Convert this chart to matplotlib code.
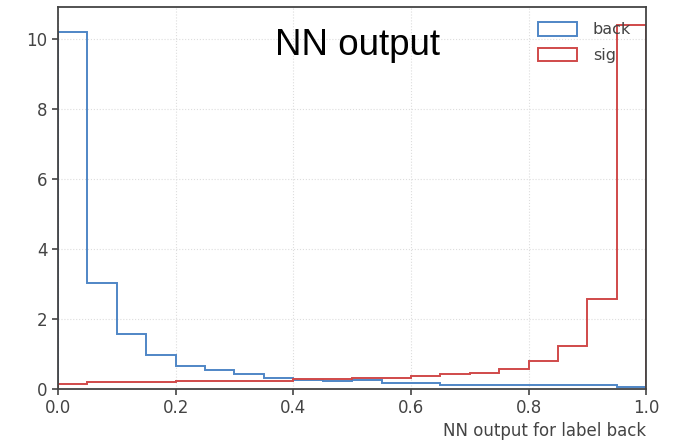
import numpy as np
import matplotlib
matplotlib.use("Agg")
import matplotlib.pyplot as plt

# bin edges of the NN output histogram (20 bins on [0, 1])
bin_edges = np.linspace(0.0, 1.0, 21)

# normalised counts
back_counts = [10.22, 3.03, 1.58, 0.97, 0.67, 0.53, 0.42, 0.32, 0.27, 0.23,
               0.25, 0.18, 0.18, 0.10, 0.10, 0.10, 0.10, 0.10, 0.10, 0.05]
sig_counts = [0.13, 0.19, 0.19, 0.19, 0.24, 0.24, 0.24, 0.24, 0.28, 0.28,
              0.32, 0.32, 0.38, 0.43, 0.47, 0.57, 0.81, 1.22, 2.56, 10.42]

x_ticks = [0.0, 0.2, 0.4, 0.6, 0.8, 1.0]
y_ticks = [0, 2, 4, 6, 8, 10]

fig = plt.figure(figsize=(6.73, 4.44), dpi=100)
ax = fig.add_axes([0.0862, 0.124, 0.874, 0.86])

# step histograms, weighted by the read-off bin contents
ax.hist(bin_edges[:-1], bins=bin_edges, weights=back_counts, histtype="step",
        color="#4f86c6", lw=1.4, label="back")
ax.hist(bin_edges[:-1], bins=bin_edges, weights=sig_counts, histtype="step",
        color="#d04a4a", lw=1.4, label="sig")

ax.set_xlim(0, 1)
ax.set_ylim(0, 10.92)
ax.set_xticks(x_ticks)
ax.set_yticks(y_ticks)
ax.grid(True, linestyle=":", color="#dddddd", lw=0.8)
ax.set_axisbelow(True)

for s in ax.spines.values():
    s.set_color("#444444")
    s.set_linewidth(1.3)
ax.tick_params(labelsize=12, colors="#444444", labelcolor="#444444", width=1.2, length=4)

ax.text(0.51, 0.9, "NN output", transform=ax.transAxes, ha="center", va="center",
        fontsize=26.5, family="Liberation Sans", color="black")

ax.legend(loc="upper right", frameon=False, fontsize=11.5, handlelength=2.4,
          handleheight=0.9, labelspacing=0.65, borderaxespad=0.55,
          handletextpad=1.0, labelcolor="#444444")

ax.set_xlabel("NN output for label back", fontsize=12, color="#444444",
              loc="right", labelpad=3)

fig.savefig("out.png", dpi=100)
